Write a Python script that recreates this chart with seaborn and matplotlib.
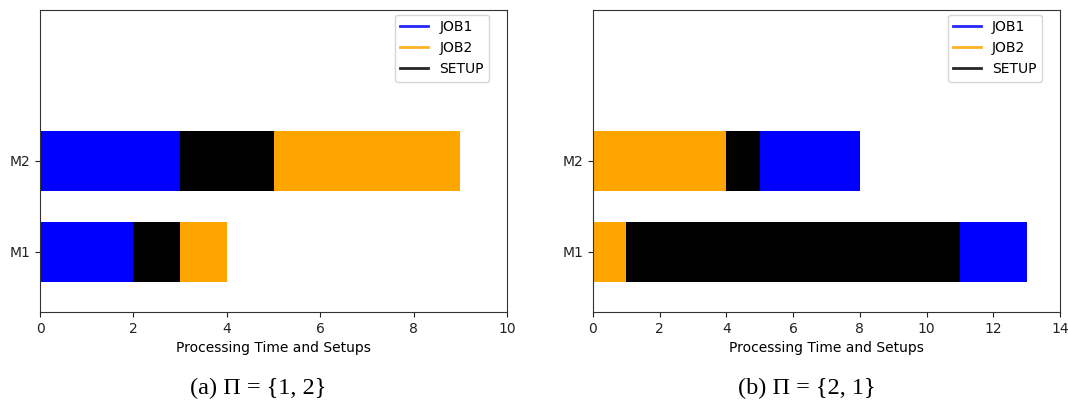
import matplotlib
matplotlib.use("Agg")
import matplotlib.pyplot as plt
from matplotlib.lines import Line2D
import pandas as pd
import seaborn as sns

machines = ["M2", "M1"]

# panel (a): order of segments on each machine is JOB1, SETUP, JOB2
a_segments = ["JOB1", "SETUP", "JOB2"]
a_job1 = [3, 2]
a_setup = [2, 1]
a_job2 = [4, 1]

# panel (b): order of segments is JOB2, SETUP, JOB1
b_segments = ["JOB2", "SETUP", "JOB1"]
b_job2 = [4, 1]
b_setup = [1, 10]
b_job1 = [3, 2]

colors = {"JOB1": "blue", "JOB2": "orange", "SETUP": "black"}
captions = ["(a) Π = {1, 2}", "(b) Π = {2, 1}"]
xlims = [10, 14]

plt.rcParams["axes.edgecolor"] = "#333333"

fig = plt.figure(figsize=(10.68, 4.03), dpi=100)
ax_a = fig.add_axes([0.0375, 0.2258, 0.4373, 0.7494])
ax_b = fig.add_axes([0.5552, 0.2258, 0.4373, 0.7494])


def gantt(ax, segments, durations, xmax):
    df = pd.DataFrame({"machine": machines})
    for name, dur in zip(segments, durations):
        df[name] = dur
    # cumulative ends, drawn longest first so the shorter ones sit on top
    ends = df[segments].cumsum(axis=1)
    for name in reversed(segments):
        d = pd.DataFrame({"machine": machines, "end": ends[name]})
        sns.barplot(data=d, x="end", y="machine", order=machines, orient="h",
                    color=colors[name], width=0.66, linewidth=0, saturation=1,
                    errorbar=None, ax=ax)
    ax.set_xlim(0, xmax)
    ax.set_ylim(1.66, -1.66)
    ax.set_ylabel("")
    ax.set_xlabel("Processing Time and Setups", fontsize=10)
    ax.tick_params(labelsize=10, colors="#222222")
    handles = [Line2D([0], [0], color=colors[k], lw=2, alpha=0.85) for k in ["JOB1", "JOB2", "SETUP"]]
    ax.legend(handles, ["JOB1", "JOB2", "SETUP"], loc="upper right",
              bbox_to_anchor=(0.962, 0.985), borderaxespad=0, fontsize=10)


gantt(ax_a, a_segments, [a_job1, a_setup, a_job2], xlims[0])
gantt(ax_b, b_segments, [b_job2, b_setup, b_job1], xlims[1])

for xc, cap in zip([0.2416, 0.7556], captions):
    fig.text(xc, 0.037, cap, ha="center", va="center", fontsize=17.5,
             family="Liberation Serif")

fig.savefig("out.png", dpi=100)
